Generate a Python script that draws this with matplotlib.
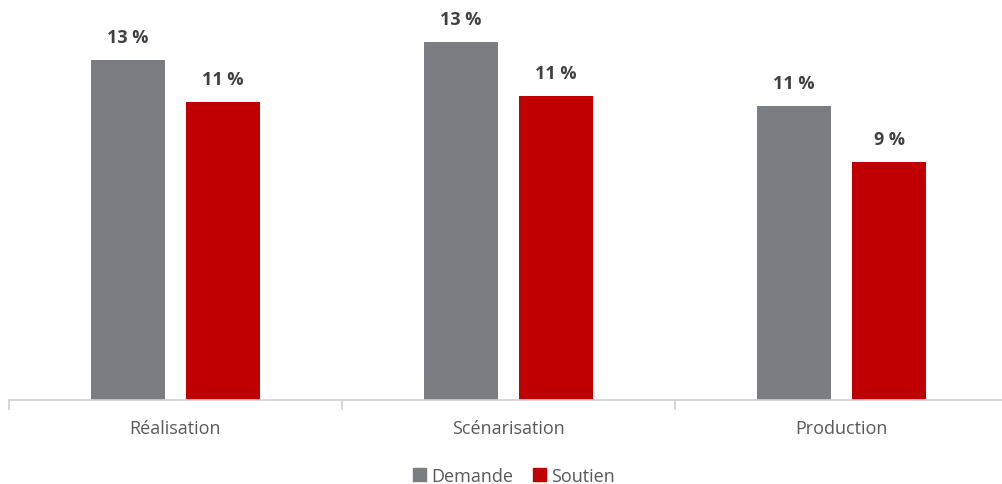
import matplotlib
matplotlib.use("Agg")
import matplotlib.pyplot as plt
import numpy as np
from matplotlib.patches import Patch

categories = ["Réalisation", "Scénarisation", "Production"]
demande = [12.7, 13.36, 10.97]
soutien = [11.12, 11.34, 8.88]
demande_labels = ["13 %", "13 %", "11 %"]
soutien_labels = ["11 %", "11 %", "9 %"]

plt.rcParams['font.family'] = ['Open Sans', 'DejaVu Sans']

fig = plt.figure(figsize=(10.02, 4.85), dpi=100)
ax = fig.add_axes([8.5/1002, 84/485, 1000/1002, 388.6/485])

x = np.arange(len(categories))
w = 0.222
off = 0.143
grey = "#7a7d82"
red = "#c00000"
b1 = ax.bar(x - off, demande, w, color=grey)
b2 = ax.bar(x + off, soutien, w, color=red)

for bars, labs in ((b1, demande_labels), (b2, soutien_labels)):
    for b, l in zip(bars, labs):
        ax.annotate(l, (b.get_x() + b.get_width()/2, b.get_height()),
                    xytext=(0, 10), textcoords="offset points", ha="center", va="bottom",
                    fontsize=13, fontweight="bold", color="#404040")

ax.set_xlim(-0.5, 2.5)
ax.set_ylim(0, 14.5)
ax.set_yticks([])
for s in ["top", "right", "left"]:
    ax.spines[s].set_visible(False)
ax.spines["bottom"].set_color("#d0d0d0")
ax.spines["bottom"].set_linewidth(1.2)
ax.set_xticks([-0.5, 0.5, 1.5, 2.5])
ax.set_xticklabels([])
ax.tick_params(axis="x", length=7, color="#d0d0d0", width=1.2)
ax.set_xticks(x, minor=True)
ax.set_xticklabels(categories, minor=True, fontsize=13, color="#595959")
ax.tick_params(axis="x", which="minor", length=0, pad=14)

handles = [Patch(color=grey, label="Demande"), Patch(color=red, label="Soutien")]
fig.legend(handles=handles, loc="center", bbox_to_anchor=(514/1002, 1 - 477/485), ncol=2,
           frameon=False, fontsize=13, handlelength=0.7, handleheight=0.7,
           handletextpad=0.3, columnspacing=1.1, labelcolor="#595959")

fig.savefig("out.png", dpi=100)
